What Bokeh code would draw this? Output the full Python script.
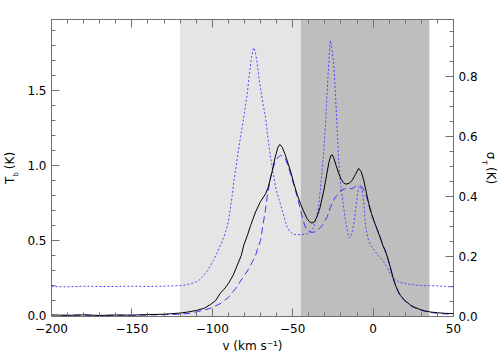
from math import pi
from bokeh.plotting import figure
from bokeh.models import (LinearAxis, Range1d, FixedTicker, BoxAnnotation, Label,
                          PrintfTickFormatter)
from bokeh.embed import file_html
from bokeh.resources import INLINE

# ---------------- data ----------------
tb_v = [-200, -190, -180, -170, -160, -150, -140, -130, -120, -115, -110, -105, -101, -98, -95, -92,
        -89.7, -87, -84.5, -82, -80.4, -78, -76.2, -73.1, -70, -66.9, -65.2, -63.1, -61, -59.2, -58,
        -56.5, -55, -53.4, -51, -49.3, -47, -45, -43, -41, -39.5, -38, -36.5, -34.8, -33, -30.7, -29,
        -27.5, -26.3, -25.4, -24.5, -23, -21.5, -20, -18.5, -17, -15, -13, -11, -9, -7.5, -5.8, -4,
        -2.7, -1, 0.4, 2.5, 4.6, 6, 7.7, 9.5, 10.8, 12.5, 14, 15.5, 17, 19, 21, 23.3, 26, 29.5, 32,
        35.7, 40, 45, 50]
tb_vals = [0.005, 0.003, 0.006, 0.002, 0.005, 0.004, 0.008, 0.010, 0.018, 0.025, 0.035, 0.05, 0.076,
           0.10, 0.15, 0.185, 0.22, 0.27, 0.335, 0.40, 0.47, 0.54, 0.60, 0.69, 0.76, 0.81, 0.855, 0.944,
           1.05, 1.12, 1.139, 1.12, 1.08, 1.03, 0.95, 0.88, 0.80, 0.74, 0.69, 0.645, 0.625, 0.616, 0.625,
           0.66, 0.72, 0.83, 0.93, 1.02, 1.065, 1.07, 1.05, 1.00, 0.95, 0.91, 0.885, 0.875, 0.88, 0.90,
           0.94, 0.98, 0.96, 0.90, 0.81, 0.745, 0.68, 0.634, 0.575, 0.515, 0.47, 0.43, 0.37, 0.32, 0.25,
           0.20, 0.165, 0.135, 0.11, 0.09, 0.07, 0.055, 0.041, 0.033, 0.025, 0.02, 0.016, 0.014]

model_v = [-200, -190, -180, -170, -160, -150, -140, -130, -120, -115, -110, -105, -101, -95, -90, -85.6,
           -81.4, -77.3, -73.1, -72, -70, -69, -67, -65.9, -63.8, -62, -60.7, -59, -57.6, -56, -54.5, -53,
           -51.4, -49, -47.2, -45.5, -44.1, -42.5, -41, -39, -37, -34.8, -32.5, -30.7, -28.5, -26.6, -25,
           -23.4, -21.5, -20, -17.2, -15, -13, -11, -9.8, -8, -6.8, -5.2, -3.7, -2, 0.4, 2.5, 4.6, 6, 7.7,
           9.5, 10.8, 12.5, 14, 15.5, 17, 19, 21, 23.3, 26, 29.5, 32, 35.7, 40, 45, 50]
model_vals = [0.003, 0.002, 0.005, 0.001, 0.004, 0.003, 0.005, 0.007, 0.010, 0.015, 0.025, 0.038, 0.050,
              0.081, 0.122, 0.18, 0.247, 0.313, 0.40, 0.44, 0.50, 0.57, 0.70, 0.79, 0.92, 0.99, 1.03, 1.055,
              1.066, 1.06, 1.044, 1.00, 0.944, 0.86, 0.79, 0.72, 0.656, 0.60, 0.568, 0.556, 0.555, 0.565,
              0.59, 0.612, 0.66, 0.72, 0.76, 0.79, 0.81, 0.835, 0.845, 0.845, 0.845, 0.86, 0.868, 0.865,
              0.855, 0.82, 0.78, 0.71, 0.634, 0.575, 0.515, 0.47, 0.425, 0.365, 0.315, 0.25, 0.20, 0.16,
              0.13, 0.105, 0.087, 0.067, 0.052, 0.038, 0.03, 0.022, 0.016, 0.012, 0.01]

sigma_v = [-200, -190, -180, -170, -160, -150, -140, -130, -125, -120, -116, -113.6, -110.5, -108.4, -105.3,
           -103, -101.1, -99, -96.9, -95, -92.8, -91, -89.7, -88.5, -87.6, -86.6, -84.5, -82.5, -80.4, -78.3,
           -76.9, -75.6, -74.5, -74, -73, -72, -71.1, -70, -68.5, -66.9, -65.5, -63.8, -62, -60.7, -58.5,
           -56.5, -55, -53.4, -52, -50.3, -48, -45.1, -43, -41, -39, -36.9, -35.5, -34.5, -33.7, -32.7,
           -31.7, -30.6, -29.6, -28.2, -27.3, -26.6, -25.8, -24.5, -23.6, -22.8, -21.3, -20.2, -19.2, -17.5,
           -16.1, -15.1, -14.5, -13.5, -12, -11, -9.9, -9, -8.2, -6.8, -5.7, -4.7, -3.2, -1.6, 0.5, 2.6,
           4.6, 6.7, 8.8, 10.8, 12.5, 13.9, 16, 18, 21.2, 25, 29.5, 35, 40, 45, 50]
sigma_vals = [0.100, 0.099, 0.101, 0.100, 0.100, 0.101, 0.100, 0.101, 0.102, 0.103, 0.106, 0.109, 0.114,
              0.12, 0.137, 0.152, 0.17, 0.19, 0.214, 0.237, 0.264, 0.295, 0.326, 0.37, 0.403, 0.45, 0.526,
              0.598, 0.664, 0.742, 0.809, 0.864, 0.893, 0.896, 0.875, 0.84, 0.80, 0.76, 0.71, 0.664, 0.60,
              0.531, 0.475, 0.431, 0.39, 0.353, 0.325, 0.298, 0.285, 0.276, 0.273, 0.273, 0.274, 0.276,
              0.283, 0.298, 0.325, 0.35, 0.376, 0.43, 0.487, 0.56, 0.642, 0.787, 0.87, 0.92, 0.90, 0.842,
              0.76, 0.676, 0.509, 0.44, 0.398, 0.33, 0.287, 0.264, 0.262, 0.27, 0.309, 0.35, 0.40, 0.43,
              0.435, 0.42, 0.375, 0.30, 0.26, 0.238, 0.222, 0.207, 0.196, 0.182, 0.163, 0.142, 0.13, 0.122,
              0.115, 0.112, 0.109, 0.106, 0.103, 0.103, 0.102, 0.100, 0.098]

# velocity windows (shaded)
window_light = (-120, -45)
window_dark = (-45, 35)

x_major = [-200, -150, -100, -50, 0, 50]
x_minor = list(range(-200, 51, 10))
tb_major = [0.0, 0.5, 1.0, 1.5]
tb_minor = [i / 10 for i in range(0, 20)]
sig_major = [0.0, 0.2, 0.4, 0.6, 0.8]
sig_minor = [i / 20 for i in range(0, 20)]

NBSP = "\u00a0"
x_title = "v (km s\u207b\u00b9)"
tb_title = "T" + NBSP * 2 + "(K)"
sig_title = "\u03c3" + NBSP * 2 + "(K)"

# ---------------- figure ----------------
FONT = "DejaVu Sans"
p = figure(frame_width=402, frame_height=297,
           x_range=Range1d(-200, 50), y_range=Range1d(-0.005, 1.97),
           output_backend="svg", toolbar_location=None,
           x_axis_location=None, y_axis_location=None,
           min_border_left=51, min_border_right=51, min_border_top=19, min_border_bottom=44)
p.extra_y_ranges = {"sigma": Range1d(0, 0.99)}
p.xgrid.visible = False
p.ygrid.visible = False
p.outline_line_color = None
p.background_fill_color = "white"
p.border_fill_color = "white"

p.add_layout(BoxAnnotation(left=window_light[0], right=window_light[1], fill_color="#e5e5e5",
                           fill_alpha=1.0, line_alpha=0, level="underlay"))
p.add_layout(BoxAnnotation(left=window_dark[0], right=window_dark[1], fill_color="#bebebe",
                           fill_alpha=1.0, line_alpha=0, level="underlay"))

p.line(sigma_v, sigma_vals, y_range_name="sigma", line_color="#5544ff", line_width=1,
       line_dash="2 2")
p.line(model_v, model_vals, line_color="#4433ff", line_width=1, line_dash="7 4")
p.line(tb_v, tb_vals, line_color="black", line_width=1)

AX = "#707070"


def style(ax):
    ax.axis_line_color = AX
    ax.major_tick_line_color = AX
    ax.minor_tick_line_color = AX
    ax.major_tick_in = 8
    ax.major_tick_out = 0
    ax.minor_tick_in = 4
    ax.minor_tick_out = 0
    ax.major_label_text_font = FONT
    ax.major_label_text_font_size = "12px"
    ax.major_label_text_color = "black"
    ax.major_label_standoff = 5
    ax.axis_label_text_font = FONT
    ax.axis_label_text_font_size = "12px"
    ax.axis_label_text_font_style = "normal"
    ax.axis_label_text_color = "black"


xfmt = {v: (str(v).replace("-", "\u2212")) for v in x_major}

bottom = LinearAxis(ticker=FixedTicker(ticks=x_major, minor_ticks=x_minor), axis_label=x_title)
style(bottom)
bottom.major_label_overrides = xfmt
bottom.major_label_standoff = 7
bottom.axis_label_standoff = 3
p.add_layout(bottom, "below")

# top: mirror ticks only (no labels) -> ticks given as "minor" ticks of two axes
top_minor = LinearAxis(ticker=FixedTicker(ticks=[], minor_ticks=x_minor))
style(top_minor)
top_minor.major_label_standoff = 0
p.add_layout(top_minor, "above")
top_major = LinearAxis(ticker=FixedTicker(ticks=[], minor_ticks=x_major))
style(top_major)
top_major.major_label_standoff = 0
top_major.minor_tick_in = 8
top_major.axis_line_color = None
p.add_layout(top_major, "above")

left = LinearAxis(ticker=FixedTicker(ticks=tb_major, minor_ticks=tb_minor),
                  formatter=PrintfTickFormatter(format="%.1f"), axis_label=tb_title)
style(left)
left.axis_label_standoff = 7
p.add_layout(left, "left")

right = LinearAxis(y_range_name="sigma", ticker=FixedTicker(ticks=sig_major, minor_ticks=sig_minor),
                   formatter=PrintfTickFormatter(format="%.1f"), axis_label=sig_title)
style(right)
right.axis_label_standoff = 3
p.add_layout(right, "right")

# ---------------- subscripts (canvas units; side panel => not clipped) ----------------
def lab(side, text, x, y, size, angle=0.0):
    p.add_layout(Label(x=x, y=y, x_units="canvas", y_units="canvas", text=text, angle=angle,
                       text_font=FONT, text_font_size=size,
                       text_align="left", text_baseline="middle", text_color="black"), side)

lab("above", "b", 15, 176, "7px", angle=pi / 2)
lab("right", "T", 483, 160, "7px", angle=-pi / 2)

open("out.html", "w").write(file_html(p, INLINE))
